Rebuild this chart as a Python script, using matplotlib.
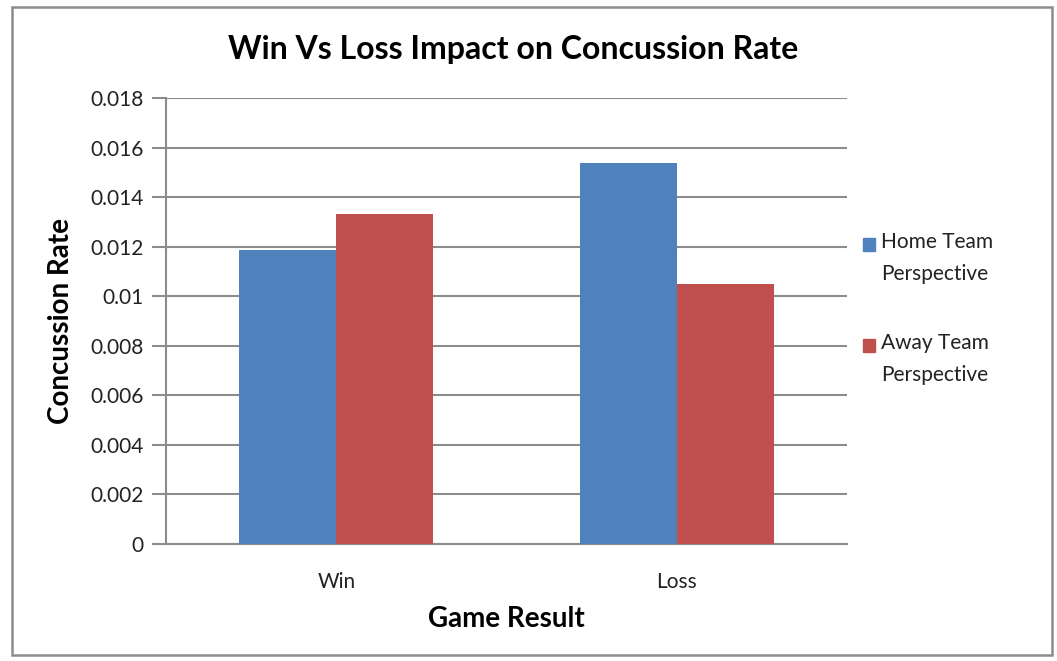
import matplotlib.pyplot as plt
from matplotlib.patches import Rectangle
import numpy as np

plt.rcParams['font.family'] = ['Lato', 'DejaVu Sans']

categories = ['Win', 'Loss']
home = [0.01185, 0.01538]
away = [0.0133, 0.01049]
series_names = ['Home Team\nPerspective', 'Away Team\nPerspective']
series_colors = ['#4F81BD', '#C0504D']
yticks = [0, 0.002, 0.004, 0.006, 0.008, 0.01, 0.012, 0.014, 0.016, 0.018]
ytick_labels = ['0', '0.002', '0.004', '0.006', '0.008', '0.01', '0.012', '0.014', '0.016', '0.018']

W, H = 1057, 661
fig = plt.figure(figsize=(W / 100, H / 100), dpi=100)
fig.patch.set_facecolor('white')

# outer chart border
fig.patches.append(Rectangle((12 / W, 6 / H), 1040 / W, 648 / H, transform=fig.transFigure,
                             fill=False, edgecolor='#8c8c8c', linewidth=1.8))

ax = fig.add_axes([166 / W, 117 / H, 681 / W, 446 / H])

x = np.arange(len(categories))
bw = 0.285
ax.bar(x - bw / 2, home, bw, color=series_colors[0], zorder=3)
ax.bar(x + bw / 2, away, bw, color=series_colors[1], zorder=3)

ax.set_xlim(-0.5, 1.5)
ax.set_ylim(0, 0.018)
ax.set_yticks(yticks)
ax.set_yticklabels(ytick_labels)
ax.set_xticks(x)
ax.set_xticklabels(categories)

ax.grid(axis='y', color='#8c8c8c', linewidth=1.5, zorder=0)
for s in ['top', 'right']:
    ax.spines[s].set_visible(False)
ax.spines['left'].set_color('#8c8c8c')
ax.spines['left'].set_linewidth(1.5)
ax.spines['bottom'].set_color('#8c8c8c')
ax.spines['bottom'].set_linewidth(1.5)
ax.tick_params(axis='y', length=10, width=1.5, color='#8c8c8c', labelsize=15,
               labelcolor='#222222', pad=6)
ax.tick_params(axis='x', length=0, labelsize=15, labelcolor='#222222', pad=20)

ax.set_title('Win Vs Loss Impact on Concussion Rate', fontsize=23, fontweight='bold',
             pad=28, x=0.51)
ax.set_xlabel('Game Result', fontsize=20, fontweight='bold', labelpad=10)
ax.set_ylabel('Concussion Rate', fontsize=20, fontweight='bold', labelpad=12)

# legend, Excel style: swatch next to the first line of each label
for i, (name, col) in enumerate(zip(series_names, series_colors)):
    top = 238 + i * 101
    fig.patches.append(Rectangle((863 / W, 1 - (top + 13) / H), 12 / W, 13 / H,
                                 transform=fig.transFigure, color=col))
    fig.text(881 / W, 1 - (top - 6) / H, name, fontsize=15, color='#222222',
             va='top', ha='left', linespacing=1.75)

fig.savefig('out.png', dpi=100)
